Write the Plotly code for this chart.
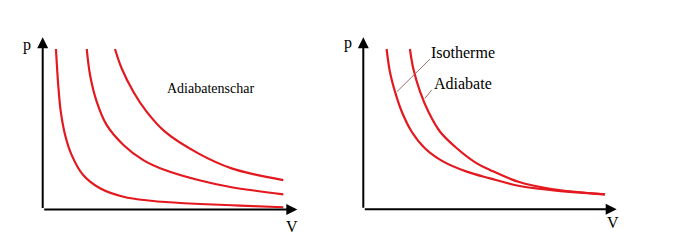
import plotly.graph_objects as go

# ---------------- data (arbitrary units V, p) ----------------
# left panel: family of adiabats
adia1_V = [0.52, 0.61, 0.71, 0.88, 1.14, 1.59, 2.25, 3.17, 4.23, 5.00, 6.18, 7.75, 9.45]
adia1_p = [9.32, 7.23, 5.68, 4.33, 3.16, 2.00, 1.23, 0.74, 0.51, 0.42, 0.32, 0.23, 0.13]
adia2_V = [1.73, 1.86, 2.12, 2.51, 3.17, 3.95, 4.80, 6.11, 7.42, 9.45]
adia2_p = [9.32, 7.81, 6.26, 4.91, 3.75, 2.87, 2.29, 1.71, 1.29, 0.88]
adia3_V = [2.84, 3.10, 3.56, 4.08, 4.80, 6.11, 7.42, 9.45]
adia3_p = [9.32, 8.20, 6.84, 5.68, 4.52, 3.26, 2.39, 1.71]

# right panel: isotherm vs adiabat
iso_V = [0.92, 1.05, 1.25, 1.52, 1.91, 2.43, 3.16, 4.08, 5.00, 6.12, 7.43, 9.54]
iso_p = [9.32, 8.00, 6.84, 5.67, 4.51, 3.55, 2.77, 2.19, 1.80, 1.37, 1.12, 0.87]
adb_V = [1.84, 1.97, 2.24, 2.57, 3.03, 3.69, 4.48, 5.00, 6.12, 7.43, 9.54]
adb_p = [9.32, 8.20, 6.84, 5.67, 4.51, 3.55, 2.67, 2.29, 1.60, 1.18, 0.87]

axis_V_max = 10
axis_p_max = 10

labels_left = ["Adiabatenschar"]
labels_right = ["Isotherme", "Adiabate"]

# ---------------- layout helpers ----------------
W, H = 700, 249
RED = "#e3191f"
FONT = "Liberation Serif"

def dom(x0px, pxx, xr, y0px, pxy, yr):
    xd = [(x0px + xr[0] * pxx) / W, (x0px + xr[1] * pxx) / W]
    yd = [(H - (y0px - yr[0] * pxy)) / H, (H - (y0px - yr[1] * pxy)) / H]
    return xd, yd

XR = [-1.5, 10.5]
YR = [-2.0, 10.5]
xd1, yd1 = dom(42.7, 25.46, XR, 209.5, 17.22, YR)
xd2, yd2 = dom(363.3, 25.34, XR, 209.3, 17.2, YR)

fig = go.Figure()

line = dict(color=RED, width=2.2, shape="spline", smoothing=1.0)
for V, p in [(adia1_V, adia1_p), (adia2_V, adia2_p), (adia3_V, adia3_p)]:
    fig.add_trace(go.Scatter(x=V, y=p, mode="lines", line=line, xaxis="x", yaxis="y",
                             showlegend=False, hoverinfo="skip"))
for V, p in [(iso_V, iso_p), (adb_V, adb_p)]:
    fig.add_trace(go.Scatter(x=V, y=p, mode="lines", line=line, xaxis="x2", yaxis="y2",
                             showlegend=False, hoverinfo="skip"))

ax_common = dict(visible=False, showgrid=False, zeroline=False, fixedrange=True)
fig.update_layout(
    width=W, height=H,
    margin=dict(l=0, r=0, t=0, b=0),
    paper_bgcolor="white", plot_bgcolor="white",
    xaxis=dict(domain=xd1, range=XR, **ax_common),
    yaxis=dict(domain=yd1, range=YR, **ax_common),
    xaxis2=dict(domain=xd2, range=XR, anchor="y2", **ax_common),
    yaxis2=dict(domain=yd2, range=YR, anchor="x2", **ax_common),
    showlegend=False,
)

anns = []
for xa, ya in [("x", "y"), ("x2", "y2")]:
    # coordinate axes with arrow heads
    anns.append(dict(x=axis_V_max, y=0, ax=0, ay=0, xref=xa, yref=ya, axref=xa, ayref=ya,
                     text="", showarrow=True, arrowhead=2, arrowsize=1.1, arrowwidth=2,
                     arrowcolor="black", standoff=0, startstandoff=0))
    anns.append(dict(x=0, y=axis_p_max, ax=0, ay=0, xref=xa, yref=ya, axref=xa, ayref=ya,
                     text="", showarrow=True, arrowhead=2, arrowsize=1.1, arrowwidth=2,
                     arrowcolor="black", standoff=0, startstandoff=0))

def txt(s, x, y, xa, ya, size):
    return dict(text=s, x=x, y=y, xref=xa, yref=ya, showarrow=False,
                font=dict(family=FONT, size=size, color="black"),
                xanchor="center", yanchor="middle")

anns += [
    txt("p", -0.63, 9.58, "x", "y", 16),
    txt("V", 9.79, -0.98, "x", "y", 16),
    txt(labels_left[0], 6.61, 7.03, "x", "y", 14),
    txt("p", -0.62, 9.65, "x2", "y2", 16),
    txt("V", 9.85, -0.76, "x2", "y2", 16),
    txt(labels_right[0], 3.92, 9.14, "x2", "y2", 16),
    txt(labels_right[1], 3.93, 7.30, "x2", "y2", 16),
]
fig.update_layout(annotations=anns)

# leader lines from the labels to the curves
leader = dict(color="#9a7070", width=1)
fig.add_shape(type="line", xref="x2", yref="y2", x0=2.63, y0=8.73, x1=1.32, y1=6.83, line=leader)
fig.add_shape(type="line", xref="x2", yref="y2", x0=2.70, y0=6.94, x1=2.43, y1=6.45, line=leader)

fig.write_html("out.html")
